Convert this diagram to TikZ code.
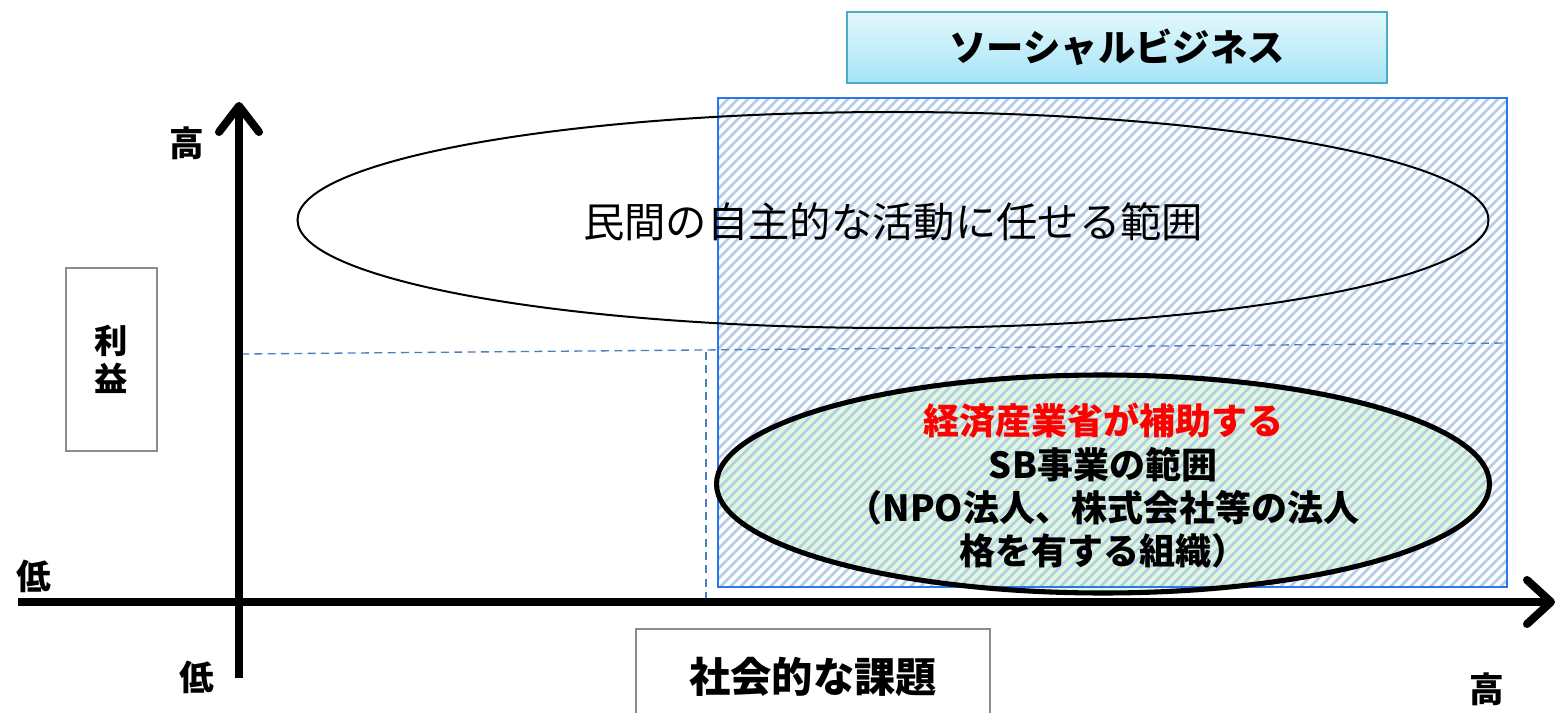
\documentclass[tikz,border=0pt]{standalone}
\usepackage{fontspec}
\setmainfont{Noto Sans CJK JP}
\usetikzlibrary{shapes.geometric}
\definecolor{hatchc}{RGB}{182,203,234}
\definecolor{rectc}{RGB}{40,120,235}
\definecolor{dashc}{RGB}{74,126,191}
\definecolor{sbtop}{RGB}{226,248,253}
\definecolor{sbbot}{RGB}{166,228,246}
\definecolor{sbline}{RGB}{75,172,198}
\definecolor{greenfill}{RGB}{222,248,218}
\definecolor{boxgray}{RGB}{140,140,140}
\tikzset{
  axisline/.style={line width=6pt,black},
  chevron/.style={line width=6pt,black,line cap=round,line join=round},
  hatchline/.style={line width=1.9pt,hatchc},
  guide/.style={dashc,line width=1pt,dash pattern=on 6pt off 4pt},
  graybox/.style={draw=boxgray,line width=1.5pt,fill=white},
  axislabel/.style={font=\bfseries\fontsize{26}{30}\selectfont}
}
\begin{document}
\begin{tikzpicture}[x=0.75pt,y=-0.75pt]
\clip (0,0) rectangle (1557,713);
\fill[white] (0,0) rectangle (1557,713);
% coordinates
\coordinate (wc) at (893,220);
\coordinate (gc) at (1103,484);
\coordinate (rTL) at (718,98);
\coordinate (rBR) at (1507,587);
\coordinate (yB) at (239,678);
\coordinate (yT) at (239,106);
\coordinate (xL) at (18,602);
\coordinate (xR) at (1551,602);
% green ellipse fill
\fill[greenfill] (gc) ellipse [x radius=289.5pt, y radius=81.75pt];
% hatching
\begin{scope}
  \clip (rTL) rectangle (rBR);
  \foreach \s in {215,225,...,1515} \draw[hatchline] (\s,592) -- ++(500,-500);
\end{scope}
\draw[rectc,line width=1.2pt] (rTL) rectangle (rBR);
% dashed guides
\coordinate (gL) at (241,354);
\coordinate (gR) at (1507,343);
\coordinate (vT) at (706,352);
\coordinate (vB) at (706,602);
\draw[guide] (gL) -- (gR);
\draw[guide] (vT) -- (vB);
% ellipses
\node[ellipse, draw, line width=1.5pt, minimum width=893.25pt, minimum height=162pt, inner sep=0pt] (wE) at (wc) {};
\node[font=\fontsize{31}{37}\selectfont] (wT) at (893,222) {民間の自主的な活動に任せる範囲};
\node[ellipse, draw, line width=3.8pt, minimum width=579.75pt, minimum height=163.5pt, inner sep=0pt] (gE) at (gc) {};
\node[align=center, font=\bfseries\fontsize{27}{32.5}\selectfont] (gT) at (1103,486)
  {\textcolor{red}{経済産業省が補助する}\\SB事業の範囲\\（NPO法人、株式会社等の法人\\格を有する組織）};
% social business box
\node[draw=sbline, line width=1.5pt, top color=sbtop, bottom color=sbbot,
  minimum width=405pt, minimum height=53.25pt, inner sep=0pt,
  font=\bfseries\fontsize{28}{32}\selectfont] (sb) at (1117,47.5) {ソーシャルビジネス};
% axes
\draw[axisline] (yB) -- (yT);
\draw[axisline] (xL) -- (xR);
\draw[chevron] (219,132) -- (yT) -- (259,132);
\draw[chevron] (1527,580) -- (xR) -- (1527,624);
% axis labels
\node[axislabel] (hiY) at (187,143) {高};
\node[axislabel] (loX) at (34,576) {低};
\node[axislabel] (loY) at (197,677) {低};
\node[axislabel] (hiX) at (1487,689) {高};
% boxes
\node[graybox, minimum width=68.25pt, minimum height=137.25pt, align=center,
  font=\bfseries\fontsize{25}{29}\selectfont] (profit) at (111.5,359.5) {利\\益};
\node[graybox, minimum width=265.5pt, minimum height=75pt, inner sep=0pt] (issueBox) at (813,679) {};
\node[font=\bfseries\fontsize{31}{35}\selectfont] (issue) at (813,677) {社会的な課題};
\end{tikzpicture}
\end{document}
